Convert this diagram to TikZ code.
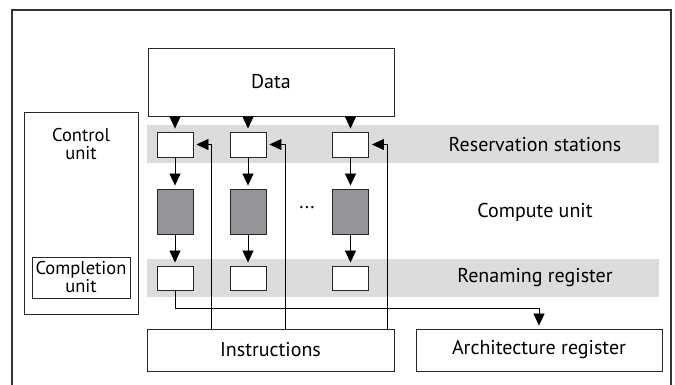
\documentclass[tikz,border=0pt]{standalone}
\usepackage{fontspec}
\setmainfont{PT Sans}
\usetikzlibrary{arrows.meta}
\definecolor{bandgray}{HTML}{DCDCDC}
\definecolor{cugray}{HTML}{959499}
\begin{document}
\begin{tikzpicture}[x=1pt,y=-1pt,
  box/.style={draw=black!85,line width=0.9pt,fill=white,inner sep=0pt},
  cubox/.style={box,fill=cugray},
  band/.style={fill=bandgray,draw=none},
  arr/.style={-{Triangle[length=12pt,width=11pt]},line width=0.8pt,shorten >=3pt},
  lbl/.style={inner sep=0pt},
  small/.style={font=\fontsize{18.5}{18}\selectfont},
  every node/.style={font=\fontsize{20}{22}\selectfont}]
\useasboundingbox (0,0) rectangle (675,385);
% outer frame
\draw[line width=1.2pt,black!80] (12,385) -- (12,10) -- (671,10) -- (671,385);
% bands
\fill[band] (147,125) rectangle (659,163);
\fill[band] (147,259) rectangle (659,297);
% labels
\node[lbl] (lres) at (535,144.5) {Reservation stations};
\node[lbl] (lcu) at (535,212) {Compute unit};
\node[lbl] (lren) at (535,278) {Renaming register};
\node[lbl] (dots) at (307,208) {...};
% control unit
\node[box,minimum width=114pt,minimum height=202pt] (ctrl) at (81,213) {};
\node[align=center,inner sep=0pt,small] (ctrltxt) at (81,144) {Control\\unit};
\node[box,minimum width=98pt,minimum height=41pt,align=center,small] (compl) at (81,277.5) {Completion\\unit};
% data
\node[box,minimum width=246pt,minimum height=68pt] (data) at (271,82) {Data};
% columns
\foreach \i/\x in {1/175,2/248,3/350.5}{
  \node[box,minimum width=36pt,minimum height=25pt] (res\i) at (\x,144.5) {};
  \node[cubox,minimum width=36pt,minimum height=45pt] (cu\i) at (\x,211.5) {};
  \node[box,minimum width=36pt,minimum height=24pt] (ren\i) at (\x,278) {};
  \draw[arr] (data.south -| res\i) -- (res\i.north);
  \draw[arr] (res\i.south) -- (cu\i.north);
  \draw[arr] (cu\i.south) -- (ren\i.north);
}
% instructions and architecture register
\node[box,minimum width=247pt,minimum height=42pt] (instr) at (270.5,350) {Instructions};
\node[box,minimum width=246pt,minimum height=42pt] (arch) at (539,350) {Architecture register};
% feedback lines
\coordinate (f1) at (211,0);
\coordinate (f2) at (285,0);
\coordinate (f3) at (387,0);
\foreach \i in {1,2,3}{
  \draw[arr] (instr.north -| f\i) |- (res\i.east);
}
% renaming to architecture register
\coordinate (rr) at (539,308);
\draw[arr] (ren1.south) |- (rr) -- (arch.north);
\end{tikzpicture}
\end{document}
